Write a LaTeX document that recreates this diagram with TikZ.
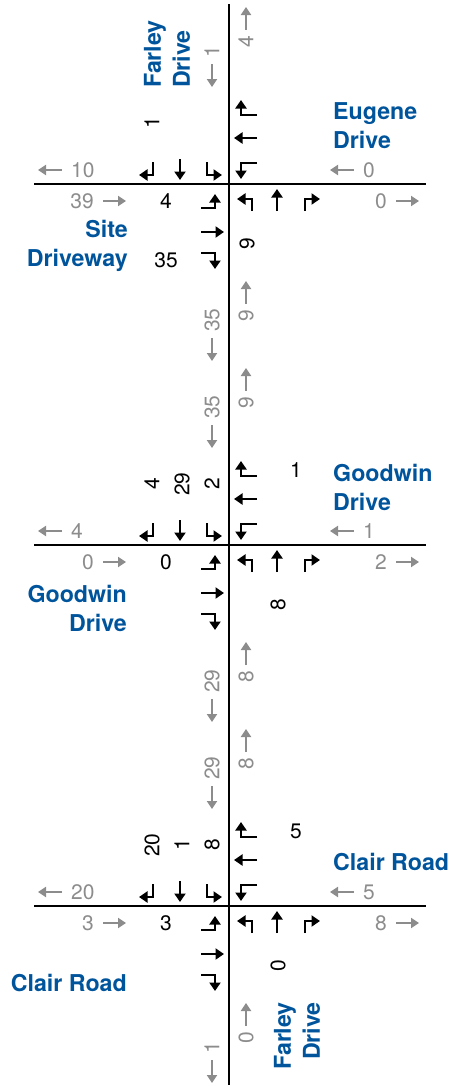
\documentclass[tikz,border=0pt]{standalone}
\usepackage{fontspec}
\setmainfont{TeX Gyre Heros}
\usetikzlibrary{arrows.meta}
\definecolor{roadblue}{RGB}{0,84,155}
\definecolor{volgray}{RGB}{140,140,140}
\tikzset{
  road/.style={line width=2.6pt},
  mov/.style={line width=2.6pt, -{Triangle[length=8.5pt,width=11pt]}},
  gar/.style={volgray, line width=2.2pt, -{Triangle[length=8pt,width=10pt]}},
  num/.style={font=\fontsize{21}{21}\selectfont, inner sep=0pt},
  gnum/.style={num, text=volgray},
  lbl/.style={font=\fontsize{23.2}{29}\selectfont\bfseries, text=roadblue, inner sep=0pt},
}
% turning movement arrows of one junction (origin = junction centre)
\newcommand\junctionarrows{%
  \draw[mov] (-76,-22) -- (-76,-9) -- (-90,-9);
  \draw[mov] (-49,-25) -- (-49,-4);
  \draw[mov] (-22,-22) -- (-22,-9) -- (-7,-9);
  \draw[mov] (28,-69) -- (12,-69) -- (12,-84);
  \draw[mov] (28,-46) -- (5,-46);
  \draw[mov] (28,-21) -- (12,-21) -- (12,-5);
  \draw[mov] (-28,24) -- (-14,24) -- (-14,10);
  \draw[mov] (-28,48) -- (-5,48);
  \draw[mov] (-28,69) -- (-14,69) -- (-14,85);
  \draw[mov] (23,27) -- (23,15) -- (8,15);
  \draw[mov] (48,27) -- (48,5);
  \draw[mov] (76,27) -- (76,15) -- (91,15);
}
% grey link volumes: prefix, LT, RT, LB, RB, above-S, above-N, below-S, below-N
\newcommand\grayvols[9]{%
  \draw[gar] (-167,-14) -- (-191,-14);
  \node[gnum,anchor=west] (#1lt) at (-158,-14) {#2};
  \draw[gar] (125,-14) -- (101,-14);
  \node[gnum,anchor=west] (#1rt) at (134,-14) {#3};
  \draw[gar] (-126,17) -- (-103,17);
  \node[gnum,anchor=east] (#1lb) at (-135,17) {#4};
  \draw[gar] (167,17) -- (190,17);
  \node[gnum,anchor=east] (#1rb) at (158,17) {#5};
  \draw[gar] (-17,-120) -- (-17,-97);
  \node[gnum,rotate=90,anchor=west] (#1as) at (-17,-126) {#6};
  \draw[gar] (17,-154) -- (17,-177);
  \node[gnum,rotate=90,anchor=east] (#1an) at (17,-148) {#7};
  \draw[gar] (-17,154) -- (-17,177);
  \node[gnum,rotate=90,anchor=west] (#1bs) at (-17,148) {#8};
  \draw[gar] (17,120) -- (17,97);
  \node[gnum,rotate=90,anchor=east] (#1bn) at (17,126) {#9};
}
\begin{document}
\begin{tikzpicture}[x=1pt,y=-1pt]
\useasboundingbox (0,0) rectangle (451,1087);
% roads
\coordinate (ntop) at (229,4);
\coordinate (nbot) at (229,1085);
\draw[road] (ntop) -- (nbot);
\foreach \h/\n in {184/1,545/2,906/3}{
  \coordinate (w\n) at (34,\h);
  \coordinate (e\n) at (426,\h);
  \draw[road] (w\n) -- (e\n);
}
% junction 1
\begin{scope}[shift={(229,184)}]
  \junctionarrows
  \grayvols{ja}{10}{0}{39}{0}{1}{4}{35}{9}
  \node[num,rotate=90] (ja-sbr) at (-77,-61) {1};
  \node[num] (ja-ebl) at (-63,17) {4};
  \node[num] (ja-ebr) at (-63,76) {35};
  \node[num,rotate=90] (ja-nbl) at (18,60) {9};
\end{scope}
% junction 2
\begin{scope}[shift={(229,545)}]
  \junctionarrows
  \grayvols{jb}{4}{1}{0}{2}{35}{9}{29}{8}
  \node[num,rotate=90] (jb-sbr) at (-77,-61) {4};
  \node[num,rotate=90] (jb-sbt) at (-47,-61) {29};
  \node[num,rotate=90] (jb-sbl) at (-17,-61) {2};
  \node[num] (jb-wbr) at (67,-75) {1};
  \node[num] (jb-ebl) at (-63,17) {0};
  \node[num,rotate=90] (jb-nbt) at (49,60) {8};
\end{scope}
% junction 3
\begin{scope}[shift={(229,906)}]
  \junctionarrows
  \grayvols{jc}{20}{5}{3}{8}{29}{8}{1}{0}
  \node[num,rotate=90] (jc-sbr) at (-77,-61) {20};
  \node[num,rotate=90] (jc-sbt) at (-47,-61) {1};
  \node[num,rotate=90] (jc-sbl) at (-17,-61) {8};
  \node[num] (jc-wbr) at (67,-75) {5};
  \node[num] (jc-ebl) at (-63,17) {3};
  \node[num,rotate=90] (jc-nbt) at (49,60) {0};
\end{scope}
% road names
\node[lbl,rotate=90,align=left,anchor=west] (farleyN) at (167,88) {Farley\\Drive};
\node[lbl,align=left,anchor=west] (eugene) at (333,126) {Eugene\\Drive};
\node[lbl,align=right,anchor=east] (site) at (128,246) {Site\\Driveway};
\node[lbl,align=left,anchor=west] (goodwinE) at (333,487) {Goodwin\\Drive};
\node[lbl,align=right,anchor=east] (goodwinW) at (127,608) {Goodwin\\Drive};
\node[lbl,anchor=west] (clairE) at (333,862) {Clair Road};
\node[lbl,anchor=east] (clairW) at (127,983) {Clair Road};
\node[lbl,rotate=90,align=right,anchor=east] (farleyS) at (297,1002) {Farley\\Drive};
\end{tikzpicture}
\end{document}
